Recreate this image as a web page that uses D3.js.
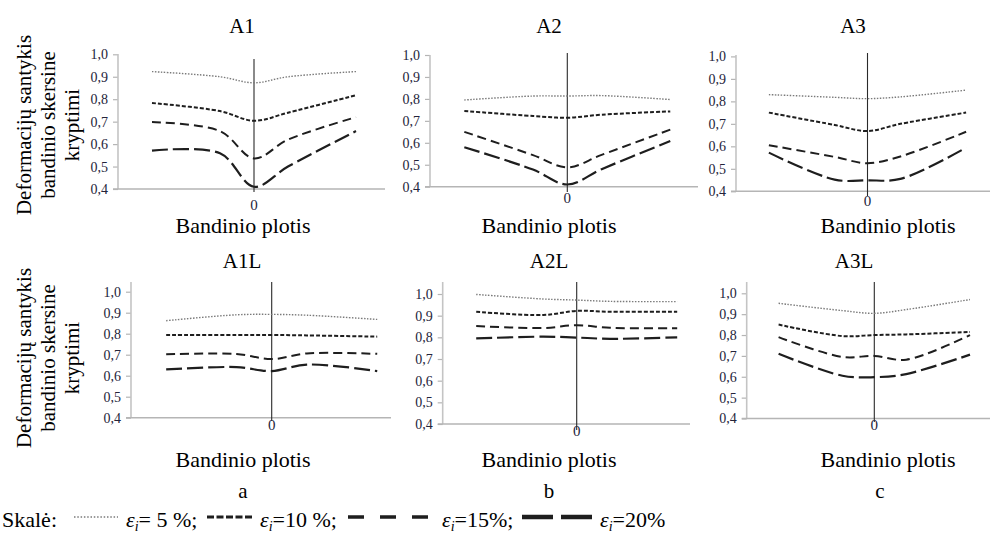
<!DOCTYPE html>
<html>
<head>
<meta charset="utf-8">
<script src="https://cdn.jsdelivr.net/npm/d3@7/dist/d3.min.js"></script>
<style>
  html, body { margin: 0; padding: 0; background: #fff; }
  svg text { font-family: "Liberation Serif", "Tinos", "Times New Roman", "DejaVu Serif", "Noto Serif", serif; }
</style>
</head>
<body>
<svg id="chart" width="990" height="539"></svg>
<script>
// Sample positions across the specimen width (0 = specimen axis)
const xPositions = [-3, -1, 0, 1, 3];
const yTicks = [0.4, 0.5, 0.6, 0.7, 0.8, 0.9, 1.0];
const panelNames = ["A1", "A2", "A3", "A1L", "A2L", "A3L"];
const groupLabels = ["a", "b", "c"];
const strainLabels = ["5 %", "10 %", "15%", "20%"];

// Transverse strain ratio, one row per strain level (5, 10, 15, 20 %)
const A1 = [
  [0.923, 0.900, 0.873, 0.900, 0.923],
  [0.783, 0.747, 0.704, 0.740, 0.818],
  [0.698, 0.658, 0.536, 0.620, 0.720],
  [0.571, 0.559, 0.410, 0.500, 0.658]
];
const A2 = [
  [0.795, 0.813, 0.813, 0.815, 0.797],
  [0.745, 0.722, 0.714, 0.728, 0.743],
  [0.650, 0.544, 0.488, 0.545, 0.660],
  [0.580, 0.478, 0.410, 0.480, 0.608]
];
const A3 = [
  [0.830, 0.818, 0.812, 0.820, 0.850],
  [0.750, 0.695, 0.668, 0.700, 0.750],
  [0.605, 0.553, 0.525, 0.555, 0.665],
  [0.572, 0.452, 0.449, 0.455, 0.594]
];
const A1L = [
  [0.862, 0.890, 0.892, 0.888, 0.868],
  [0.794, 0.794, 0.794, 0.792, 0.786],
  [0.702, 0.703, 0.679, 0.706, 0.704],
  [0.630, 0.641, 0.622, 0.653, 0.622]
];
const A2L = [
  [0.998, 0.977, 0.972, 0.966, 0.965],
  [0.918, 0.903, 0.922, 0.918, 0.918],
  [0.852, 0.843, 0.856, 0.844, 0.842],
  [0.795, 0.803, 0.799, 0.793, 0.800]
];
const A3L = [
  [0.952, 0.917, 0.904, 0.922, 0.970],
  [0.850, 0.795, 0.800, 0.803, 0.815],
  [0.790, 0.695, 0.700, 0.682, 0.800],
  [0.710, 0.605, 0.598, 0.613, 0.706]
];
const panelData = [A1, A2, A3, A1L, A2L, A3L];

const SERIF = '"Liberation Serif", "Tinos", "Times New Roman", "DejaVu Serif", serif';

// Line style for each strain level
const lineStyles = [
  { stroke: "#7a7a7a", width: 1.4, dash: "1.5,1.5" },
  { stroke: "#1e1e1e", width: 2.0, dash: "4,2" },
  { stroke: "#1e1e1e", width: 2.0, dash: "9,5" },
  { stroke: "#1e1e1e", width: 2.2, dash: "16,5" }
];

// Panel frames (pixels)
const layout = [
  { axisX: 118,   centerX: 254,   y04: 189,   y10: 54.3, axisTop: 54,  xEnd: 385,  clTop: 59,  clBot: 192, titleX: 242, titleY: 33,  zeroY: 210,   xTitleX: 243, xTitleY: 233 },
  { axisX: 430,   centerX: 567.3, y04: 186.7, y10: 55,   axisTop: 55,  xEnd: 698,  clTop: 53,  clBot: 192, titleX: 549, titleY: 33,  zeroY: 202.5, xTitleX: 549, xTitleY: 233 },
  { axisX: 736,   centerX: 867.5, y04: 191.3, y10: 56.4, axisTop: 55,  xEnd: 995,  clTop: 53,  clBot: 196, titleX: 853, titleY: 33,  zeroY: 206,   xTitleX: 888, xTitleY: 233 },
  { axisX: 131,   centerX: 271.7, y04: 417.7, y10: 291.7, axisTop: 282, xEnd: 391, clTop: 282, clBot: 421, titleX: 242, titleY: 268, zeroY: 429.5, xTitleX: 243, xTitleY: 467 },
  { axisX: 442.7, centerX: 576.7, y04: 424,   y10: 294,  axisTop: 282, xEnd: 690,  clTop: 282, clBot: 430, titleX: 549, titleY: 268, zeroY: 436,   xTitleX: 549, xTitleY: 467 },
  { axisX: 746.7, centerX: 874.3, y04: 418.5, y10: 293.3, axisTop: 282, xEnd: 1000, clTop: 282, clBot: 422, titleX: 854, titleY: 268, zeroY: 429.5, xTitleX: 888, xTitleY: 467 }
];

const svg = d3.select("#chart");
const fmt = v => d3.format(".1f")(v).replace(".", ",");

function txt(sel) {
  return sel.append("text").attr("font-family", SERIF).attr("fill", "#000");
}

panelData.forEach((series, i) => {
  const L = layout[i];
  const g = svg.append("g");
  const x = d3.scaleLinear().domain([-4, 4]).range([L.axisX, 2 * L.centerX - L.axisX]);
  const y = d3.scaleLinear().domain([0.4, 1.0]).range([L.y04, L.y10]);

  // value axis
  const yAxis = d3.axisLeft(y).tickValues(yTicks).tickFormat(fmt).tickSize(5).tickPadding(5);
  const ya = g.append("g").attr("transform", `translate(${L.axisX},0)`).call(yAxis);
  ya.attr("font-family", SERIF);
  ya.select(".domain").remove();
  ya.selectAll(".tick line").attr("stroke", "#b5b5b5").attr("stroke-width", 1.2);
  ya.selectAll(".tick text")
    .attr("font-family", SERIF)
    .attr("font-size", 14)
    .attr("fill", "#24243a");
  g.append("line")
    .attr("x1", L.axisX).attr("x2", L.axisX)
    .attr("y1", L.axisTop).attr("y2", L.y04)
    .attr("stroke", "#c4c4c4").attr("stroke-width", 1.6);

  // horizontal axis
  g.append("line")
    .attr("x1", L.axisX - 5).attr("x2", L.xEnd)
    .attr("y1", L.y04).attr("y2", L.y04)
    .attr("stroke", "#b5b5b5").attr("stroke-width", 1.4);

  // specimen centre line
  g.append("line")
    .attr("x1", x(0)).attr("x2", x(0))
    .attr("y1", L.clTop).attr("y2", L.clBot)
    .attr("stroke", "#2a2a2a").attr("stroke-width", 1.1);

  txt(g)
    .attr("x", x(0)).attr("y", L.zeroY)
    .attr("text-anchor", "middle")
    .attr("font-size", 15).attr("fill", "#24243a")
    .text("0");

  // strain curves
  const line = d3.line()
    .x((d, j) => x(xPositions[j]))
    .y(d => y(d))
    .curve(d3.curveCatmullRom.alpha(0.5));

  series.forEach((vals, k) => {
    const s = lineStyles[k];
    g.append("path")
      .attr("d", line(vals))
      .attr("fill", "none")
      .attr("stroke", s.stroke)
      .attr("stroke-width", s.width)
      .attr("stroke-dasharray", s.dash);
  });

  txt(g)
    .attr("x", L.titleX).attr("y", L.titleY)
    .attr("text-anchor", "middle")
    .attr("font-size", 21)
    .text(panelNames[i]);

  txt(g)
    .attr("x", L.xTitleX).attr("y", L.xTitleY)
    .attr("text-anchor", "middle")
    .attr("font-size", 22)
    .text("Bandinio plotis");
});

// group letters under the columns
const letterX = [243, 549, 880];
groupLabels.forEach((t, i) => {
  txt(svg)
    .attr("x", letterX[i]).attr("y", 498)
    .attr("text-anchor", "middle")
    .attr("font-size", 21)
    .text(t);
});

// value-axis titles (rotated, three lines)
const yTitleLines = ["Deformacijų santykis", "bandinio skersine", "kryptimi"];
[125, 358].forEach(cy => {
  yTitleLines.forEach((t, j) => {
    txt(svg)
      .attr("transform", `translate(${31 + j * 24},${cy}) rotate(-90)`)
      .attr("text-anchor", "middle")
      .attr("font-size", 21)
      .text(t);
  });
});

// scale legend: sample segment followed by its label
const leg = svg.append("g").attr("transform", "translate(0,527)");
txt(leg).attr("x", 2).attr("y", 0).attr("font-size", 22).text("Skalė:");
const legendItems = [
  { x0: 74,  x1: 118, text: 126, stroke: 1.4, dash: "1.5,1.8" },
  { x0: 207, x1: 252, text: 260, stroke: 3.2, dash: "7,2.5" },
  { x0: 348, x1: 428, text: 442, stroke: 3.6, dash: "16,16" },
  { x0: 522, x1: 592, text: 600, stroke: 4.4, dash: "31,8" }
];
strainLabels.forEach((lab, k) => {
  const it = legendItems[k];
  leg.append("line")
    .attr("x1", it.x0).attr("x2", it.x1)
    .attr("y1", -10).attr("y2", -10)
    .attr("stroke", lineStyles[k].stroke)
    .attr("stroke-width", it.stroke)
    .attr("stroke-dasharray", it.dash);
  const t = txt(leg).attr("x", it.text).attr("y", 0).attr("font-size", 22);
  t.append("tspan").attr("font-style", "italic").text("ε");
  t.append("tspan").attr("font-style", "italic").attr("font-size", 14).attr("dy", 4).text("i");
  const eq = k === 0 ? "= " : "=";
  const tail = k === 3 ? "" : ";";
  t.append("tspan").attr("dy", -4).text(eq + lab + tail);
});
</script>
</body>
</html>
